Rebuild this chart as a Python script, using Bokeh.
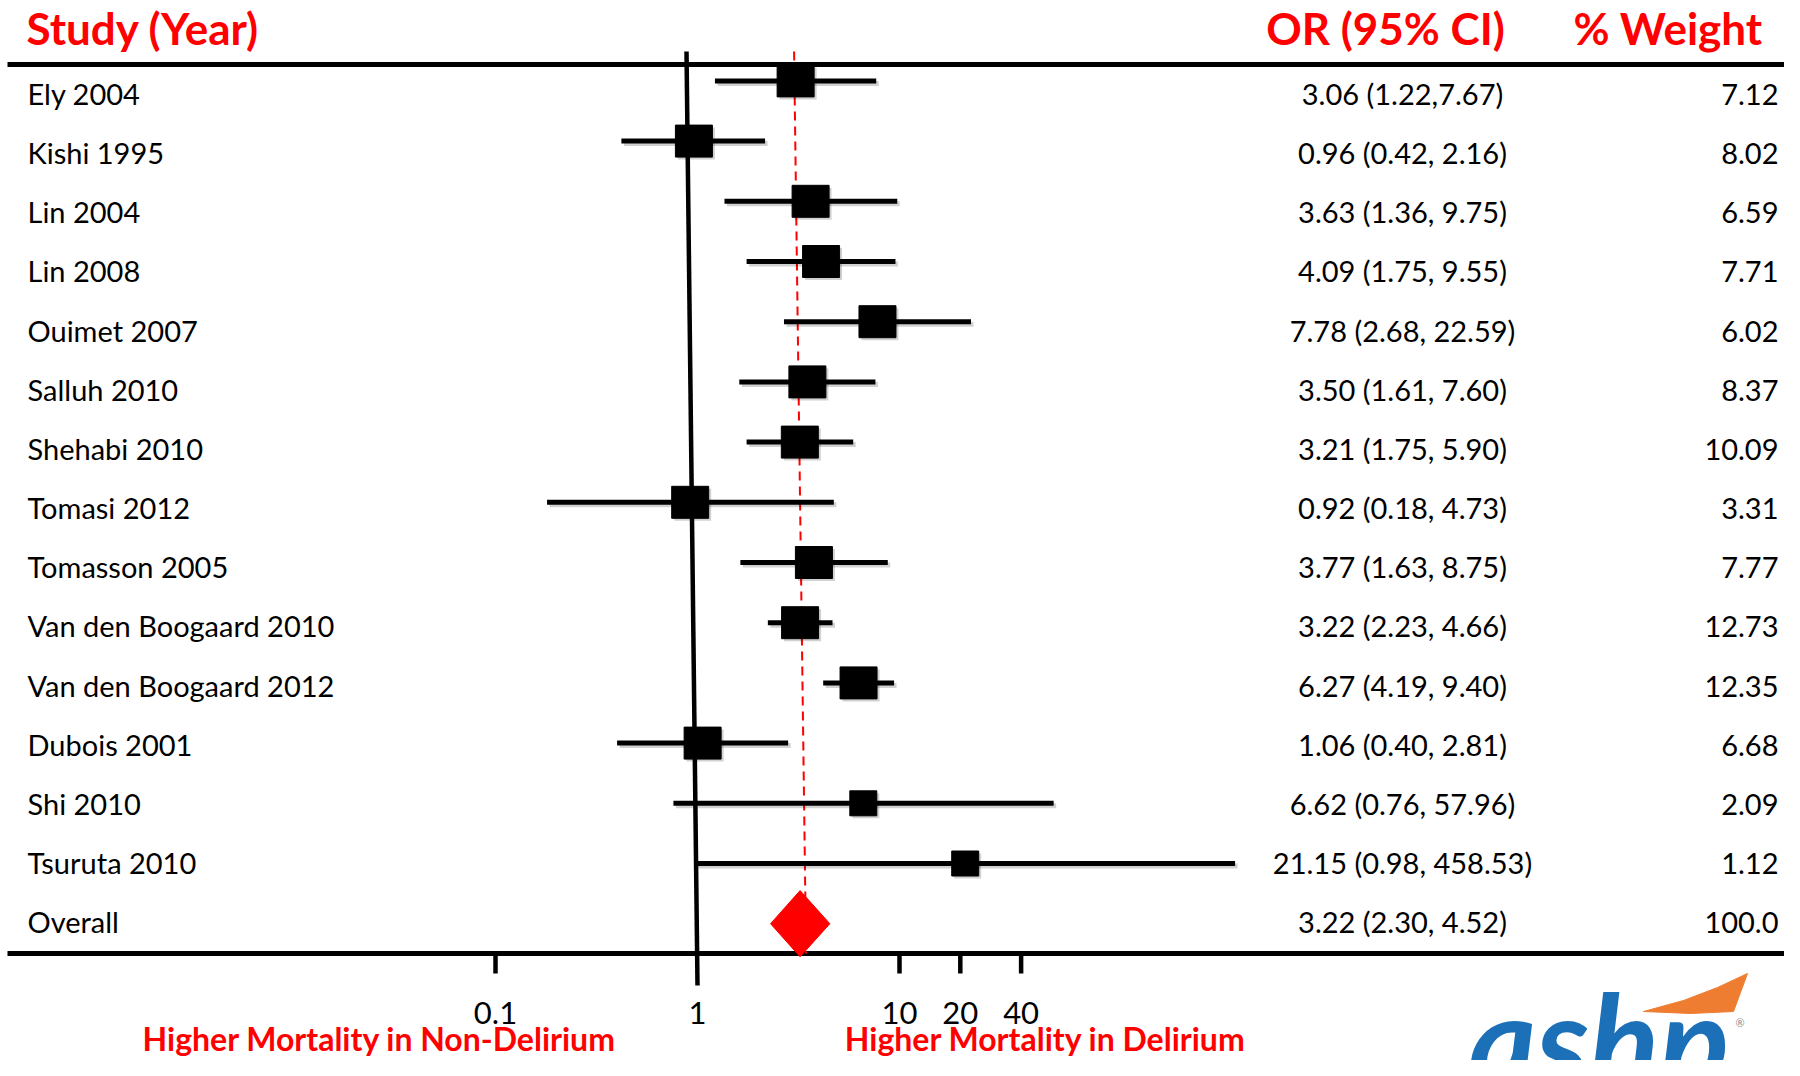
import math
from bokeh.plotting import figure
from bokeh.models import Range1d, ColumnDataSource, LabelSet
from bokeh.core.properties import value
from bokeh.embed import file_html
from bokeh.resources import INLINE

# ---------------- data ----------------
studies = ["Ely 2004", "Kishi 1995", "Lin 2004", "Lin 2008", "Ouimet 2007",
           "Salluh 2010", "Shehabi 2010", "Tomasi 2012", "Tomasson 2005",
           "Van den Boogaard 2010", "Van den Boogaard 2012", "Dubois 2001",
           "Shi 2010", "Tsuruta 2010"]
odds_ratio = [3.06, 0.96, 3.63, 4.09, 7.78, 3.50, 3.21, 0.92, 3.77, 3.22, 6.27, 1.06, 6.62, 21.15]
ci_lower = [1.22, 0.42, 1.36, 1.75, 2.68, 1.61, 1.75, 0.18, 1.63, 2.23, 4.19, 0.40, 0.76, 0.98]
ci_upper = [7.67, 2.16, 9.75, 9.55, 22.59, 7.60, 5.90, 4.73, 8.75, 4.66, 9.40, 2.81, 57.96, 458.53]
weights = [7.12, 8.02, 6.59, 7.71, 6.02, 8.37, 10.09, 3.31, 7.77, 12.73, 12.35, 6.68, 2.09, 1.12]
ci_labels = ["3.06 (1.22,7.67)", "0.96 (0.42, 2.16)", "3.63 (1.36, 9.75)", "4.09 (1.75, 9.55)",
             "7.78 (2.68, 22.59)", "3.50 (1.61, 7.60)", "3.21 (1.75, 5.90)", "0.92 (0.18, 4.73)",
             "3.77 (1.63, 8.75)", "3.22 (2.23, 4.66)", "6.27 (4.19, 9.40)", "1.06 (0.40, 2.81)",
             "6.62 (0.76, 57.96)", "21.15 (0.98, 458.53)"]
weight_labels = ["7.12", "8.02", "6.59", "7.71", "6.02", "8.37", "10.09", "3.31", "7.77",
                 "12.73", "12.35", "6.68", "2.09", "1.12"]
overall_label = "Overall"
overall_or = 3.22
overall_lower = 2.30
overall_upper = 4.52
overall_ci_label = "3.22 (2.30, 4.52)"
overall_weight_label = "100.0"
tick_values = [0.1, 1, 10, 20, 40]
tick_labels = ["0.1", "1", "10", "20", "40"]

# ---------------- layout helpers (canvas pixels -> data) ----------------
W, H = 1784, 1060
X1_PX = 697.0      # canvas px where OR = 1
DECADE = 202.0     # px per decade
ROW0_PX = 80.4     # canvas px of first study row (marks)
ROW_H = 60.2       # px per row (marks)
TXT0_PX = 104.5    # baseline of first text row
TXT_H = 59.15      # text row spacing


def xd(px):
    return 10 ** ((px - X1_PX) / DECADE)


def yd(py):
    return (py - ROW0_PX) / ROW_H


def xshift(px):
    return 10 ** (px / DECADE)


FONT = "Lato"
RED = "#ff0000"

p = figure(width=W, height=H, x_axis_type="log",
           x_range=Range1d(xd(0), xd(W)), y_range=Range1d(yd(H), yd(0)),
           output_backend="svg", toolbar_location=None,
           min_border=0, outline_line_color=None)
p.axis.visible = False
p.grid.visible = False
p.background_fill_color = "white"

n = len(studies)
rows = list(range(n))
overall_row = n
text_rows = [yd(TXT0_PX + TXT_H * i) for i in range(n + 1)]

# horizontal rules
p.segment(x0=[xd(7), xd(7)], x1=[xd(W), xd(W)], y0=[yd(64), yd(953)], y1=[yd(64), yd(953)],
          line_color="black", line_width=5)

# vertical line of no effect (OR = 1), slightly tilted as in the original slide
p.segment(x0=[1 / xshift(11)], x1=[1], y0=[yd(51)], y1=[yd(985)], line_color="black", line_width=4.5)

# overall dashed line
p.segment(x0=[overall_or / xshift(6)], x1=[overall_or * xshift(6)], y0=[yd(51)], y1=[yd(953)],
          line_color=RED, line_width=2, line_dash="9 6")

# axis ticks
other_ticks = [t for t in tick_values if t != 1]
p.segment(x0=other_ticks, x1=other_ticks, y0=[yd(953)] * len(other_ticks),
          y1=[yd(973)] * len(other_ticks), line_color="black", line_width=4.5)
p.text(x=tick_values, y=[yd(1012)] * len(tick_values), text=tick_labels,
       text_font=value(FONT), text_font_size="31px", text_align="center",
       text_baseline="middle", text_color="black")

# study CIs and boxes
src = ColumnDataSource(dict(
    y=rows, orv=odds_ratio, lo=ci_lower, hi=ci_upper,
    bw=[37 if w > 3 else 27 for w in weights],
    bh=[32 if w > 3 else 25 for w in weights],
))
shadow = ColumnDataSource(dict(
    y=[r + 2.5 / ROW_H for r in rows], orv=[v * xshift(2.5) for v in odds_ratio],
    lo=[v * xshift(2.5) for v in ci_lower], hi=[v * xshift(2.5) for v in ci_upper],
    bw=src.data["bw"], bh=src.data["bh"],
))
p.segment(x0="lo", x1="hi", y0="y", y1="y", source=shadow, line_color="black", line_width=5,
          line_alpha=0.18)
p.rect(x="orv", y="y", width="bw", height="bh", width_units="screen", height_units="screen",
       source=shadow, fill_color="black", fill_alpha=0.18, line_color=None)
p.segment(x0="lo", x1="hi", y0="y", y1="y", source=src, line_color="black", line_width=5)
p.rect(x="orv", y="y", width="bw", height="bh", width_units="screen", height_units="screen",
       source=src, fill_color="black", line_color="black")

# overall diamond
p.patch(x=[overall_lower, overall_or, overall_upper, overall_or],
        y=[overall_row, overall_row - 0.55, overall_row, overall_row + 0.55],
        fill_color=RED, line_color=RED)

# text columns
all_src = ColumnDataSource(dict(
    y=text_rows, name=studies + [overall_label],
    ci=ci_labels + [overall_ci_label], wt=weight_labels + [overall_weight_label],
))
common = dict(source=all_src, y="y", x_units="screen", text_font=value(FONT),
              text_font_size="29px", text_baseline="alphabetic", text_color="black")
p.add_layout(LabelSet(x=27, text="name", text_align="left", **common))
p.add_layout(LabelSet(x=1402, text="ci", text_align="center", **common))
p.add_layout(LabelSet(x=1778, text="wt", text_align="right", **common))

# headers
hdr = dict(text_font=value(FONT), text_font_size="44px", text_font_style="bold",
           text_color=RED, text_baseline="middle")
p.text(x=[xd(26)], y=[yd(27)], text=["Study (Year)"], text_align="left", **hdr)
p.text(x=[xd(1385)], y=[yd(27)], text=["OR (95% CI)"], text_align="center", **hdr)
p.text(x=[xd(1762)], y=[yd(27)], text=["% Weight"], text_align="right", **hdr)

# bottom direction labels
bot = dict(text_font=value(FONT), text_font_size="32px", text_font_style="bold",
           text_color=RED, text_baseline="middle", text_align="center")
p.text(x=[xd(379)], y=[yd(1038)], text=["Higher Mortality in Non-Delirium"], **bot)
p.text(x=[xd(1045)], y=[yd(1038)], text=["Higher Mortality in Delirium"], **bot)

# logo
sw_px = [(1643, 1011), (1683, 1000), (1717, 987), (1747, 973), (1740, 992), (1733, 1011), (1690, 1013)]
p.patch(x=[xd(a) for a, b in sw_px], y=[yd(b) for a, b in sw_px],
        fill_color="#ee7d31", line_color="#ee7d31")
p.text(x=[xd(1468)], y=[yd(1038)], text=["ashp"], text_font=value(FONT), text_font_size="130px",
       text_font_style="bold italic", text_color="#1b70b8", text_align="left",
       text_baseline="middle")
p.text(x=[xd(1735)], y=[yd(1022)], text=["®"], text_font=value(FONT), text_font_size="11px",
       text_color="#888888", text_align="left", text_baseline="middle")

open("out.html", "w").write(file_html(p, INLINE))
